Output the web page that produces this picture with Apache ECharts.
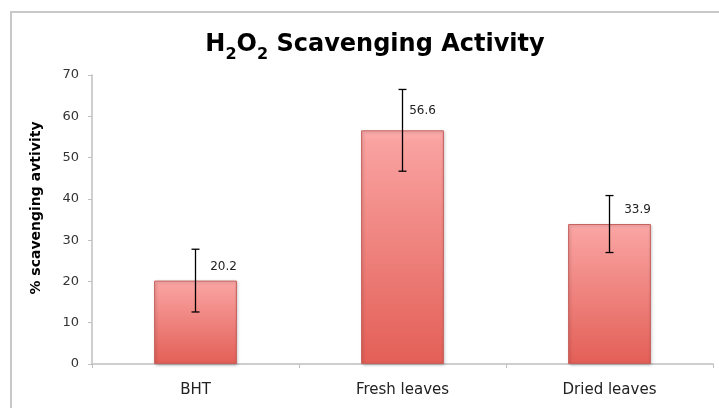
<!DOCTYPE html>
<html><head><meta charset="utf-8">
<script src="https://cdn.jsdelivr.net/npm/echarts@6/dist/echarts.min.js"></script>
<style>html,body{margin:0;padding:0;background:#fff}#c{width:719px;height:408px}</style>
</head><body><div id="c"></div>
<script>
var categories = ['BHT', 'Fresh leaves', 'Dried leaves'];
var values = [20.2, 56.6, 33.9];
var errors = [7.6, 9.9, 6.9];
var yTicks = {min: 0, max: 70, interval: 10};
var yTitle = '% scavenging avtivity';

var labelOffsets = [[28, -3], [20, -8], [28, -3]];

var chart = echarts.init(document.getElementById('c'), null, {renderer: 'canvas'});
var font = 'DejaVu Sans, Verdana, sans-serif';
var barData = values.map(function (v, i) {
  return {value: v, label: {offset: labelOffsets[i]}};
});
var errData = values.map(function (v, i) { return [i, v - errors[i], v + errors[i]]; });

chart.setOption({
  animation: false,
  graphic: [{
    type: 'rect', shape: {x: 11, y: 12, width: 760, height: 460},
    style: {fill: 'none', stroke: '#c8c8c8', lineWidth: 2}, silent: true
  }, {
    type: 'text', x: 36, y: 208, rotation: Math.PI / 2,
    style: {text: yTitle, fontFamily: font, fontWeight: 'bold', fontSize: 14, fill: '#000',
      align: 'center', verticalAlign: 'middle'}
  }],
  title: {
    text: '{n|H}{s|2}{n|O}{s|2}{n| Scavenging Activity}',
    left: 370, top: 22, textAlign: 'center',
    textStyle: {
      rich: {
        n: {fontFamily: font, fontWeight: 'bold', fontSize: 24, color: '#000', verticalAlign: 'bottom', lineHeight: 30},
        s: {fontFamily: font, fontWeight: 'bold', fontSize: 16, color: '#000', verticalAlign: 'bottom', lineHeight: 30, padding: [0, 0, -6, 0]}
      }
    }
  },
  grid: {left: 92, right: 6, top: 75, bottom: 44, containLabel: false},
  xAxis: {
    type: 'category', data: categories,
    axisLine: {lineStyle: {color: '#bfbfbf', width: 1.5}},
    axisTick: {show: true, length: 4, alignWithLabel: false, lineStyle: {color: '#bfbfbf'}},
    axisLabel: {fontFamily: font, fontSize: 15, color: '#222', margin: 19}
  },
  yAxis: {
    type: 'value', min: yTicks.min, max: yTicks.max, interval: yTicks.interval,
    axisLine: {show: true, lineStyle: {color: '#bfbfbf', width: 1.5}},
    axisTick: {show: true, length: 4, lineStyle: {color: '#bfbfbf'}},
    splitLine: {show: false},
    axisLabel: {fontFamily: font, fontSize: 13, color: '#333', margin: 13}
  },
  series: [{
    type: 'bar', data: barData, barCategoryGap: '60%',
    itemStyle: {
      color: new echarts.graphic.LinearGradient(0, 0, 0, 1, [
        {offset: 0, color: '#fcaeae'},
        {offset: 0.05, color: '#f9a2a0'},
        {offset: 1, color: '#e35f57'}
      ]),
      borderColor: '#c7605c', borderWidth: 1,
      shadowColor: 'rgba(0,0,0,0.25)', shadowBlur: 3, shadowOffsetX: 1, shadowOffsetY: 1
    },
    label: {show: true, position: 'top', distance: 5, fontFamily: font, fontSize: 12, color: '#222'}
  }, {
    type: 'custom', data: errData, z: 10,
    renderItem: function (params, api) {
      var x = api.value(0);
      var lo = api.coord([x, api.value(1)]);
      var hi = api.coord([x, api.value(2)]);
      var w = 4;
      var st = {stroke: '#000', lineWidth: 1.3};
      return {type: 'group', children: [
        {type: 'line', shape: {x1: lo[0], y1: lo[1], x2: hi[0], y2: hi[1]}, style: st},
        {type: 'line', shape: {x1: lo[0] - w, y1: lo[1], x2: lo[0] + w, y2: lo[1]}, style: st},
        {type: 'line', shape: {x1: hi[0] - w, y1: hi[1], x2: hi[0] + w, y2: hi[1]}, style: st}
      ]};
    }
  }]
});
</script></body></html>
